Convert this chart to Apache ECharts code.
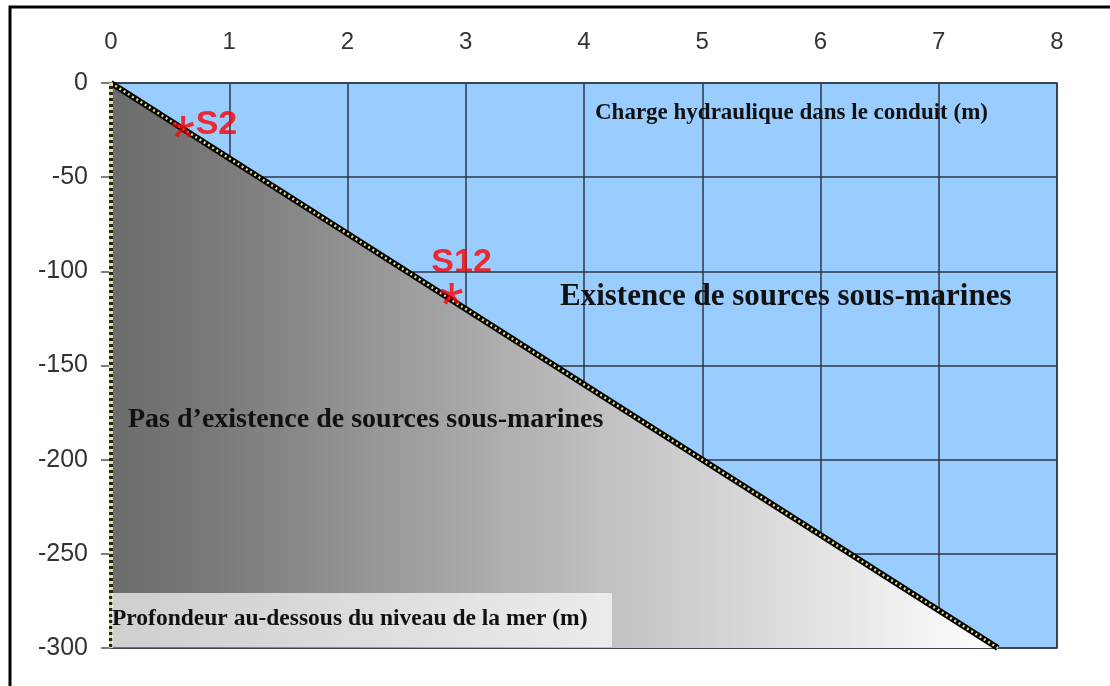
<!DOCTYPE html>
<html>
<head>
<meta charset="utf-8">
<script src="https://cdn.jsdelivr.net/npm/echarts@6/dist/echarts.min.js"></script>
<style>
  html, body { margin: 0; padding: 0; background: #fff; }
  #chart { width: 1110px; height: 686px; }
</style>
</head>
<body>
<div id="chart"></div>
<script>
// charge hydraulique (m) vs profondeur (m)
const limitX = [0, 7.5, 0];
const limitY = [0, -300, -300];
const diagX = [0, 7.5];
const diagY = [0, -300];
const edgeX = [0, 0];
const edgeY = [0, -300];
const sourceNames = ['S2', 'S12'];
const sourceX = [0.61, 2.88];
const sourceY = [-21, -110];

const serif = '"Liberation Serif", "DejaVu Serif", serif';
const sans = '"Liberation Sans", Arial, sans-serif';

const chart = echarts.init(document.getElementById('chart'));

const zip = (xs, ys) => xs.map((x, i) => [x, ys[i]]);

const option = {
  animation: false,
  backgroundColor: '#fff',
  grid: {
    left: 111, right: 53, top: 83, bottom: 38,
    show: true, backgroundColor: '#99ccff', borderColor: '#3a4048', borderWidth: 1.5
  },
  xAxis: {
    type: 'value', position: 'top', min: 0, max: 8, interval: 1,
    axisLine: { show: false },
    axisTick: { show: false },
    axisLabel: { color: '#333', fontSize: 24, fontFamily: sans, margin: 29 },
    splitLine: { lineStyle: { color: '#2f3742', width: 1.5 } }
  },
  yAxis: {
    type: 'value', min: -300, max: 0, interval: 50,
    axisLine: { show: true, lineStyle: { color: '#555', width: 1.5 } },
    axisTick: { show: true, length: 10, lineStyle: { color: '#555', width: 1.5 } },
    axisLabel: { color: '#333', fontSize: 25, fontFamily: sans, margin: 23 },
    splitLine: { lineStyle: { color: '#2f3742', width: 1.5 } }
  },
  series: [
    {
      type: 'custom',
      data: zip(limitX, limitY),
      renderItem: function (params, api) {
        if (params.dataIndex !== 0) return;
        const pts = limitX.map((x, i) => api.coord([x, limitY[i]]));
        return {
          type: 'polygon',
          shape: { points: pts },
          style: {
            fill: new echarts.graphic.LinearGradient(0, 0, 1, 0, [
              { offset: 0, color: '#6c6c6c' },
              { offset: 0.12, color: '#7a7a7a' },
              { offset: 0.55, color: '#c0c0c0' },
              { offset: 1, color: '#ffffff' }
            ])
          }
        };
      },
      silent: true,
      z: 2
    },
    {
      type: 'line', data: zip(diagX, diagY), symbol: 'none',
      lineStyle: { color: '#000', width: 6 }, z: 3, silent: true
    },
    {
      type: 'line', data: zip(diagX, diagY), symbol: 'none',
      lineStyle: { color: '#e6df7a', width: 2.5, type: [2, 3] }, z: 4, silent: true
    },
    {
      type: 'line', data: zip(edgeX, edgeY), symbol: 'none',
      lineStyle: { color: '#222', width: 4 }, z: 3, silent: true
    },
    {
      type: 'line', data: zip(edgeX, edgeY), symbol: 'none',
      lineStyle: { color: '#e6df7a', width: 4, type: [3, 3] }, z: 4, silent: true
    },
    {
      type: 'scatter', symbolSize: 1, itemStyle: { color: 'transparent' }, z: 6,
      data: zip(sourceX, sourceY),
      label: {
        show: true, position: 'inside', formatter: '*', color: '#ff0000',
        fontSize: 62, fontFamily: sans, offset: [0, 18]
      }
    },
    {
      type: 'scatter', symbolSize: 1, itemStyle: { color: 'transparent' }, z: 6,
      data: sourceX.map((x, i) => ({
        value: [x, sourceY[i]],
        name: sourceNames[i],
        label: i === 0 ? { position: 'right', distance: 12, offset: [0, 2] }
                       : { position: 'top', distance: 10, offset: [10, 0] }
      })),
      label: {
        show: true, formatter: '{b}', color: '#ff0000',
        fontSize: 34, fontWeight: 'bold', fontFamily: sans
      }
    }
  ],
  graphic: [
    {
      type: 'rect', z: 10,
      shape: { x: 10, y: 7, width: 1300, height: 900 },
      style: { fill: 'none', stroke: '#000', lineWidth: 3 }
    },
    {
      type: 'rect', z: 5,
      shape: { x: 112, y: 593, width: 500, height: 54 },
      style: { fill: 'rgba(255,255,255,0.68)' }
    },
    {
      type: 'text', z: 6, x: 112, y: 619,
      style: { text: 'Profondeur au-dessous du niveau de la mer (m)', font: 'bold 23.5px ' + serif, fill: '#111', verticalAlign: 'middle' }
    },
    {
      type: 'text', z: 6, x: 595, y: 113,
      style: { text: 'Charge hydraulique dans le conduit (m)', font: 'bold 23px ' + serif, fill: '#111', verticalAlign: 'middle' }
    },
    {
      type: 'text', z: 6, x: 560, y: 297,
      style: { text: 'Existence de sources sous-marines', font: 'bold 31px ' + serif, fill: '#111', verticalAlign: 'middle' }
    },
    {
      type: 'text', z: 6, x: 128, y: 420,
      style: { text: 'Pas d\u2019existence de sources sous-marines', font: 'bold 28px ' + serif, fill: '#111', verticalAlign: 'middle' }
    }
  ]
};

chart.setOption(option);
</script>
</body>
</html>
